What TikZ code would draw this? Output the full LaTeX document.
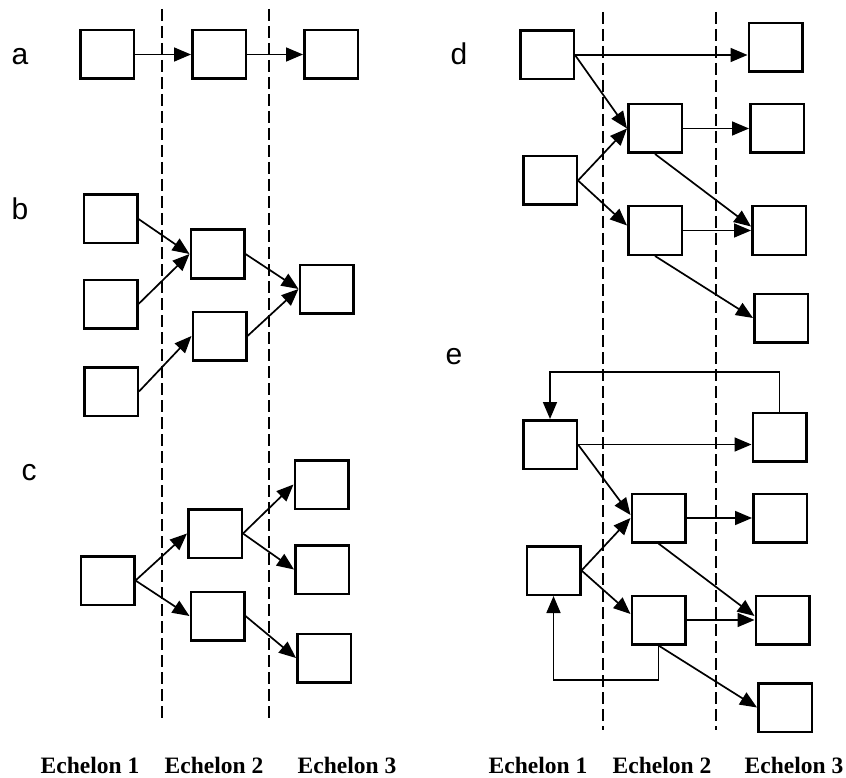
\documentclass[tikz,border=0pt]{standalone}
\usepackage{fontspec}
\setmainfont{Liberation Serif}
\newfontfamily\panelfont{Liberation Sans}
\usetikzlibrary{arrows.meta}

\tikzset{
  unit/.style={draw, line width=2.5pt, minimum width=53.5pt, minimum height=48.5pt, inner sep=0pt},
  flow/.style={line width=1.7pt, -{Triangle[length=17pt,width=14pt]}},
  divider/.style={line width=1.5pt, dash pattern=on 12pt off 5pt},
  panel/.style={font=\panelfont\fontsize{30}{34}\selectfont, anchor=base, inner sep=0pt},
  echelon/.style={font=\bfseries\fontsize{23.5}{28}\selectfont, anchor=base, inner sep=0pt}
}

\begin{document}
\begin{tikzpicture}[x=1pt, y=-1pt]
\useasboundingbox (0,0) rectangle (846,778);

% echelon dividers
\coordinate (l1t) at (162,9);   \coordinate (l1b) at (162,722);
\coordinate (l2t) at (269,9);   \coordinate (l2b) at (269,722);
\coordinate (r1t) at (603,12);  \coordinate (r1b) at (603,730);
\coordinate (r2t) at (716,12);  \coordinate (r2b) at (716,730);
\draw[divider] (l1t) -- (l1b);
\draw[divider] (l2t) -- (l2b);
\draw[divider] (r1t) -- (r1b);
\draw[divider] (r2t) -- (r2b);

% panel letters
\node[panel] (la) at (20,65) {a};
\node[panel] (lb) at (20,219) {b};
\node[panel] (lc) at (29,480) {c};
\node[panel] (ld) at (459,65) {d};
\node[panel] (le) at (454,364) {e};

% (a) serial chain
\node[unit] (a1) at (107,54.5) {};
\node[unit] (a2) at (219,54.5) {};
\node[unit] (a3) at (331,54.5) {};
\draw[flow] (a1.east) -- (a2.west);
\draw[flow] (a2.east) -- (a3.west);

% (b) converging
\node[unit] (b1) at (110.5,219) {};
\node[unit] (b2) at (110.5,304) {};
\node[unit] (b3) at (111,391.5) {};
\node[unit] (b4) at (217.5,254) {};
\node[unit] (b5) at (219.5,336) {};
\node[unit] (b6) at (326.5,289) {};
\draw[flow] (b1.east) -- (b4.west);
\draw[flow] (b2.east) -- (b4.west);
\draw[flow] (b3.east) -- (b5.west);
\draw[flow] (b4.east) -- (b6.west);
\draw[flow] (b5.east) -- (b6.west);

% (c) diverging
\node[unit] (c1) at (107.5,580.5) {};
\node[unit] (c2) at (215,533.5) {};
\node[unit] (c3) at (217.5,616) {};
\node[unit] (c4) at (321.5,484.5) {};
\node[unit] (c5) at (322,569.5) {};
\node[unit] (c6) at (324,658) {};
\draw[flow] (c1.east) -- (c2.west);
\draw[flow] (c1.east) -- (c3.west);
\draw[flow] (c2.east) -- (c4.west);
\draw[flow] (c2.east) -- (c5.west);
\draw[flow] (c3.east) -- (c6.west);

% (d) network
\node[unit] (d1) at (547,55) {};
\node[unit] (d2) at (550,180.5) {};
\node[unit] (d3) at (655,128.5) {};
\node[unit] (d4) at (655,230.5) {};
\node[unit] (d5) at (775.5,47.5) {};
\node[unit] (d6) at (777,128.5) {};
\node[unit] (d7) at (779,230.5) {};
\node[unit] (d8) at (781,318) {};
\draw[flow] (d1.east) -- (d1.east -| d5.west);
\draw[flow] (d1.east) -- (d3.west);
\draw[flow] (d2.east) -- (d3.west);
\draw[flow] (d2.east) -- ([yshift=5pt]d4.west);
\draw[flow] (d3.east) -- (d6.west);
\draw[flow] (d3.south) -- ([yshift=4pt]d7.west);
\draw[flow] (d4.east) -- (d7.west);
\draw[flow] (d4.south) -- (d8.west);

% (e) network with return flows
\node[unit] (e1) at (550,444.5) {};
\node[unit] (e2) at (553.5,570.5) {};
\node[unit] (e3) at (658.5,518) {};
\node[unit] (e4) at (658.5,620) {};
\node[unit] (e5) at (779.5,437) {};
\node[unit] (e6) at (780,518) {};
\node[unit] (e7) at (782.5,620) {};
\node[unit] (e8) at (785,707.5) {};
\draw[flow] (e1.east) -- (e1.east -| e5.west);
\draw[flow] (e1.east) -- ([yshift=3pt]e3.west);
\draw[flow] (e2.east) -- (e3.west);
\draw[flow] (e2.east) -- ([yshift=6pt]e4.west);
\draw[flow] (e3.east) -- (e6.west);
\draw[flow] (e3.south) -- ([yshift=4pt]e7.west);
\draw[flow] (e4.east) -- (e7.west);
\draw[flow] (e4.south) -- (e8.west);
\coordinate (etop) at (0,372);
\coordinate (ebot) at (0,680);
\draw[flow] (e5.north) |- (etop -| e1.north) -- (e1.north);
\draw[flow] (e4.south) |- (ebot -| e2.south) -- (e2.south);

% echelon captions
\node[echelon] (el1) at (90,773) {Echelon 1};
\node[echelon] (el2) at (214,773) {Echelon 2};
\node[echelon] (el3) at (347,773) {Echelon 3};
\node[echelon] (er1) at (538,773) {Echelon 1};
\node[echelon] (er2) at (662,773) {Echelon 2};
\node[echelon] (er3) at (794,773) {Echelon 3};
\end{tikzpicture}
\end{document}
